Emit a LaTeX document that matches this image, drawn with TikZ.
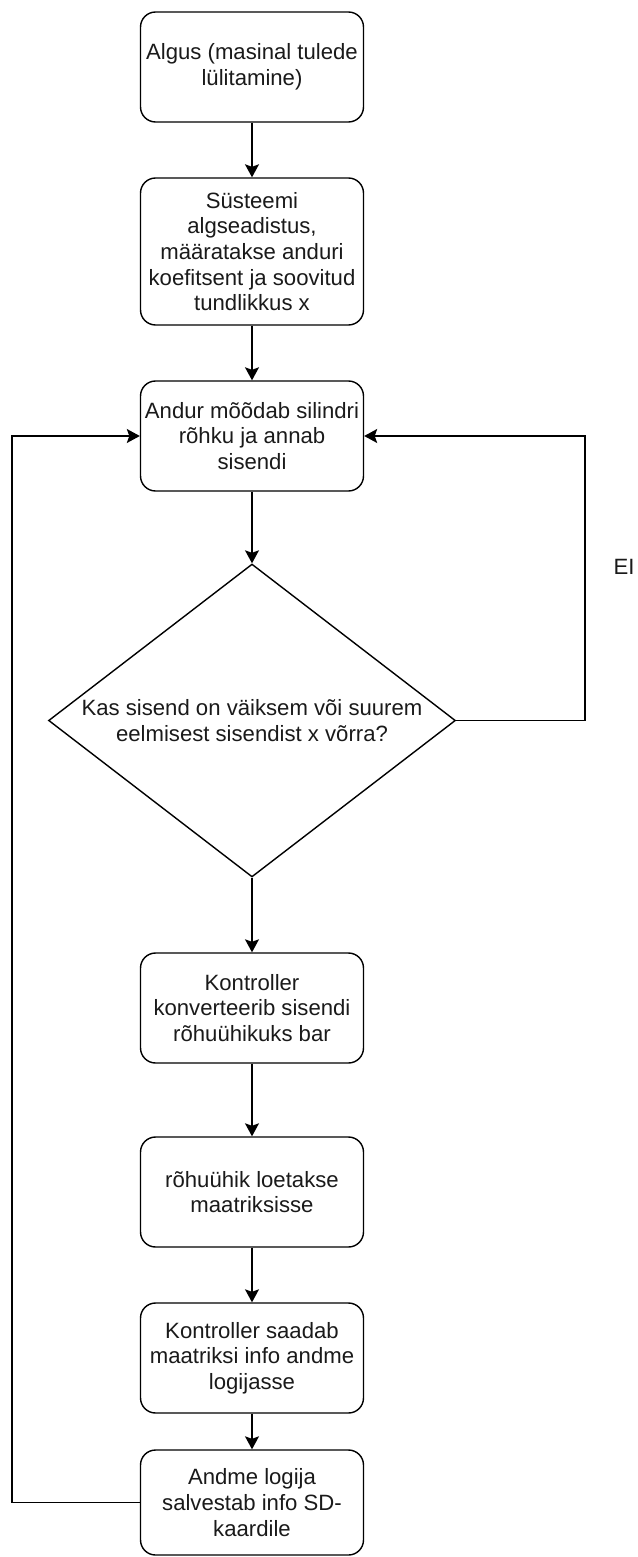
\documentclass[tikz,border=0pt]{standalone}
\usepackage{fontspec}
\setmainfont{Liberation Sans}
\usepackage{xcolor}
\usepackage{tikz}
\usetikzlibrary{shapes.geometric,arrows.meta}
\definecolor{bg}{HTML}{FFFFFF}
\definecolor{edge}{HTML}{000000}
\definecolor{ink}{HTML}{1A1A1A}
\tikzset{
  stepBox/.style={draw=edge, line width=0.8pt, rounded corners=0.3cm, fill=bg,
    minimum width=4.46cm, minimum height=2.2cm, inner sep=2pt, align=center, text=ink},
  decBox/.style={draw=edge, line width=0.8pt, diamond, aspect=1.3, fill=bg,
    minimum width=8.14cm, minimum height=6.26cm, inner xsep=-2.2pt, inner ysep=0pt,
    align=center, text=ink},
  flowArrow/.style={draw=edge, line width=0.8pt,
    -{Stealth[length=2.6mm, width=2.8mm, inset=0.5mm]}},
  lbl/.style={text=ink, inner sep=0pt},
}

\begin{document}
\begin{tikzpicture}[x=0.02cm, y=-0.02cm,
    every node/.style={font=\fontsize{12.6}{14.6}\selectfont}]
  \useasboundingbox[fill=bg] (0,0) rectangle (637,1557);
  \coordinate (lx) at (12,0);
  \coordinate (rx) at (585,0);

  \node[stepBox] (start) at (252,67) {Algus (masinal tulede\\lülitamine)};
  \node[stepBox, minimum height=2.94cm] (setup) at (252,251.5)
    {Süsteemi\\algseadistus,\\määratakse anduri\\koefitsent ja soovitud\\tundlikkus x};
  \node[stepBox] (sensor) at (252,436) {Andur mõõdab silindri\\rõhku ja annab\\sisendi};
  \node[decBox] (check) at (252,720.5)
    {Kas sisend on väiksem või suurem\\eelmisest sisendist x võrra?};
  \node[stepBox] (convert) at (252,1008) {Kontroller\\konverteerib sisendi\\rõhuühikuks bar};
  \node[stepBox] (matrix) at (252,1192) {rõhuühik loetakse\\maatriksisse};
  \node[stepBox] (send) at (252,1358) {Kontroller saadab\\maatriksi info andme\\logijasse};
  \node[stepBox, minimum height=2.1cm] (logger) at (252,1502.5)
    {Andme logija\\salvestab info SD-\\kaardile};
  \node[lbl] (no) at (624,567) {EI};

  \draw[flowArrow] (start) -- (setup);
  \draw[flowArrow] (setup) -- (sensor);
  \draw[flowArrow] (sensor) -- (check);
  \draw[flowArrow] (check) -- (convert);
  \draw[flowArrow] (convert) -- (matrix);
  \draw[flowArrow] (matrix) -- (send);
  \draw[flowArrow] (send) -- (logger);

  \draw[flowArrow] (check.east) -- (check.east -| rx) -- (sensor.east -| rx) -- (sensor.east);
  \draw[flowArrow] (logger.west) -- (logger.west -| lx) -- (sensor.west -| lx) -- (sensor.west);
\end{tikzpicture}
\end{document}
